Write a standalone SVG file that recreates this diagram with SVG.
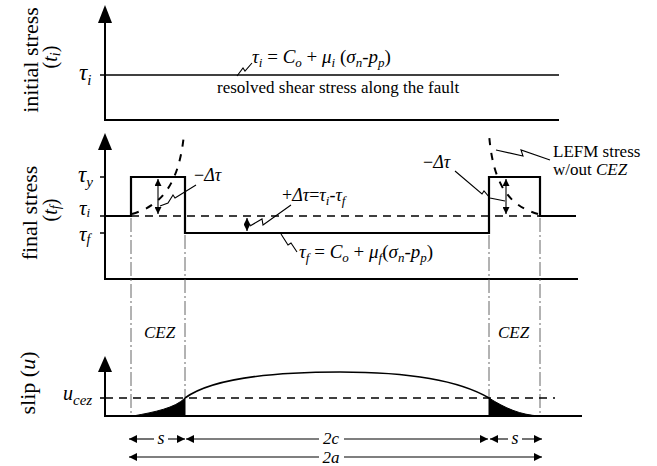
<svg xmlns="http://www.w3.org/2000/svg" width="657" height="466" viewBox="0 0 657 466">
<style>
text{font-family:"Liberation Serif","Times New Roman",serif;fill:#000}
.m{font-style:italic}
.ax{stroke:#000;stroke-width:2;fill:none}
.ln{stroke:#000;stroke-width:1.6;fill:none}
.thk{stroke:#000;stroke-width:2.2;fill:none}
.dash{stroke:#000;stroke-width:1.4;fill:none;stroke-dasharray:8 6}
.lefm{stroke:#000;stroke-width:2;fill:none;stroke-dasharray:7 8}
.vd{stroke:#555;stroke-width:0.9;fill:none;stroke-dasharray:14 3 2 3}
.ld{stroke:#000;stroke-width:1.1;fill:none}
.dim{stroke:#000;stroke-width:1.1;fill:none}
</style>
<defs>
<marker id="ah" viewBox="0 0 10 10" refX="10" refY="5" markerWidth="10" markerHeight="8" markerUnits="userSpaceOnUse" orient="auto-start-reverse">
<path d="M0,0 L10,5 L0,10 Z" fill="#000"/>
</marker>
<marker id="ahs" viewBox="0 0 10 10" refX="10" refY="5" markerWidth="7" markerHeight="7" markerUnits="userSpaceOnUse" orient="auto-start-reverse">
<path d="M0,0 L10,5 L0,10 Z" fill="#000"/>
</marker>
</defs>

<!-- TOP PANEL -->
<g id="panel-initial">
<text transform="translate(38,60) rotate(-90)" text-anchor="middle" font-size="22">initial stress</text>
<text transform="translate(57,57) rotate(-90)" text-anchor="middle" font-size="20">(<tspan class="m">t</tspan><tspan class="m" font-size="14" dy="3">i</tspan><tspan dy="-3">)</tspan></text>
<path class="ax" d="M105,120 V20"/>
<path d="M105,5 L98,23 L112,23 Z" fill="#000"/>
<path class="ax" d="M104,120 H559"/>
<path class="ln" d="M100,75 H559"/>
<text x="79" y="80" class="m" font-size="23">τ<tspan font-size="15" dy="5">i</tspan></text>
<text x="217" y="93" font-size="17">resolved shear stress along the fault</text>
<path class="ld" d="M237,76 L243,68 L245,71 L252,63"/>
<text x="252" y="63" class="m" font-size="19">τ<tspan font-size="13" dy="4">i</tspan><tspan dy="-4" font-style="normal"> = </tspan>C<tspan font-size="13" dy="4">o</tspan><tspan dy="-4" font-style="normal"> + </tspan>μ<tspan font-size="13" dy="4">i</tspan><tspan dy="-4" font-style="normal"> (</tspan>σ<tspan font-size="13" dy="4">n</tspan><tspan dy="-4" font-style="normal">-</tspan>p<tspan font-size="13" dy="4">p</tspan><tspan dy="-4" font-style="normal">)</tspan></text>
</g>

<!-- MIDDLE PANEL -->
<g id="panel-final">
<text transform="translate(37,213) rotate(-90)" text-anchor="middle" font-size="22">final stress</text>
<text transform="translate(57,210) rotate(-90)" text-anchor="middle" font-size="20">(<tspan class="m">t</tspan><tspan class="m" font-size="14" dy="3">f</tspan><tspan dy="-3">)</tspan></text>
<path class="ax" d="M105,279 V148"/>
<path d="M105,133 L98,150 L112,150 Z" fill="#000"/>
<path class="ax" d="M104,279 H578"/>
<path class="ln" d="M100,177 H105 M100,216 H105 M100,233 H105"/>
<text x="78" y="182" class="m" font-size="23">τ<tspan font-size="15" dy="5">y</tspan></text>
<text x="79" y="215" class="m" font-size="21">τ<tspan font-size="13" dy="2">i</tspan></text>
<text x="79" y="241" class="m" font-size="21">τ<tspan font-size="14" dy="3">f</tspan></text>
<path class="dash" d="M131,216 H541"/>
<path class="thk" d="M105,216 H131 V177 H185 V233 H489 V177 H540 V216 H576"/>
<path class="lefm" d="M132,214 C160,206 179,186 184,134"/>
<path class="lefm" d="M538,214 C510,206 493,186 489,134"/>
<path class="dim" d="M158,179 V214" marker-start="url(#ahs)" marker-end="url(#ahs)"/>
<path class="dim" d="M506,179 V214" marker-start="url(#ahs)" marker-end="url(#ahs)"/>
<path class="dim" d="M247,218 V231" marker-start="url(#ahs)" marker-end="url(#ahs)"/>
<text x="194" y="181" class="m" font-size="18"><tspan font-style="normal">−</tspan>Δτ</text>
<path class="ld" d="M196,185 L175,198 L173,195 L168,203 L160,206"/>
<text x="423" y="168" class="m" font-size="18"><tspan font-style="normal">−</tspan>Δτ</text>
<path class="ld" d="M455,171 L482,194 L484,191 L490,198 L505,201"/>
<text x="282" y="201" class="m" font-size="18"><tspan font-style="normal">+</tspan>Δτ<tspan font-style="normal">=</tspan>τ<tspan font-size="13" dy="4">i</tspan><tspan dy="-4" font-style="normal">-</tspan>τ<tspan font-size="13" dy="4">f</tspan></text>
<path class="ld" d="M250,226 L262,219 L263,225 L291,205"/>
<path class="ld" d="M281,234 L288,245 L291,243 L297,252"/>
<text x="299" y="258" class="m" font-size="19">τ<tspan font-size="13" dy="4">f</tspan><tspan dy="-4" font-style="normal"> = </tspan>C<tspan font-size="13" dy="4">o</tspan><tspan dy="-4" font-style="normal"> + </tspan>μ<tspan font-size="13" dy="4">f</tspan><tspan dy="-4" font-style="normal">(</tspan>σ<tspan font-size="13" dy="4">n</tspan><tspan dy="-4" font-style="normal">-</tspan>p<tspan font-size="13" dy="4">p</tspan><tspan dy="-4" font-style="normal">)</tspan></text>
<path class="ld" d="M496,150 L523,156 L521,150 L550,160"/>
<text x="553" y="157" font-size="17">LEFM stress</text>
<text x="553" y="175" font-size="17">w/out <tspan class="m">CEZ</tspan></text>
</g>

<!-- CEZ guide lines -->
<g id="connectors">
<path class="vd" d="M131,218 V416"/>
<path class="vd" d="M185,235 V398"/>
<path class="vd" d="M489,235 V398"/>
<path class="vd" d="M540,218 V416"/>
</g>
<g id="cez-left"><text x="144" y="338" class="m" font-size="17">CEZ</text></g>
<g id="cez-right"><text x="498" y="338" class="m" font-size="17">CEZ</text></g>

<!-- BOTTOM PANEL -->
<g id="panel-slip">
<text transform="translate(35,383) rotate(-90)" text-anchor="middle" font-size="22">slip (<tspan class="m">u</tspan>)</text>
<path class="ax" d="M105,416 V370"/>
<path d="M105,356 L98,372 L112,372 Z" fill="#000"/>
<path class="ln" d="M100,398 H105"/>
<text x="63" y="400" class="m" font-size="20">u<tspan font-size="15" dy="5">cez</tspan></text>
<path class="dash" d="M105,398 H555"/>
<path class="ax" d="M104,416 H582"/>
<path class="ln" d="M185,398 C210,380 260,372 340,372 C395,372 455,378 489,398"/>
<path d="M133,416 C155,412 175,408 185,398 L185,416 Z" fill="#000" stroke="#000" stroke-width="1"/>
<path d="M489,398 C505,408 520,415 540,416 L489,416 Z" fill="#000" stroke="#000" stroke-width="1"/>
</g>

<!-- DIMENSIONS -->
<g id="dimensions">
<path class="dim" d="M129,439 H154" marker-start="url(#ah)"/>
<path class="dim" d="M168,439 H185" marker-end="url(#ah)"/>
<text x="161" y="444" class="m" font-size="18" text-anchor="middle">s</text>
<path class="dim" d="M186,439 H319" marker-start="url(#ah)"/>
<path class="dim" d="M344,439 H488" marker-end="url(#ah)"/>
<text x="331" y="444" class="m" font-size="17" text-anchor="middle">2c</text>
<path class="dim" d="M490,439 H508" marker-start="url(#ah)"/>
<path class="dim" d="M522,439 H542" marker-end="url(#ah)"/>
<text x="515" y="444" class="m" font-size="18" text-anchor="middle">s</text>
<path class="dim" d="M129,457 H319" marker-start="url(#ah)"/>
<path class="dim" d="M344,457 H542" marker-end="url(#ah)"/>
<text x="331" y="463" class="m" font-size="17" text-anchor="middle">2a</text>
</g>
</svg>
